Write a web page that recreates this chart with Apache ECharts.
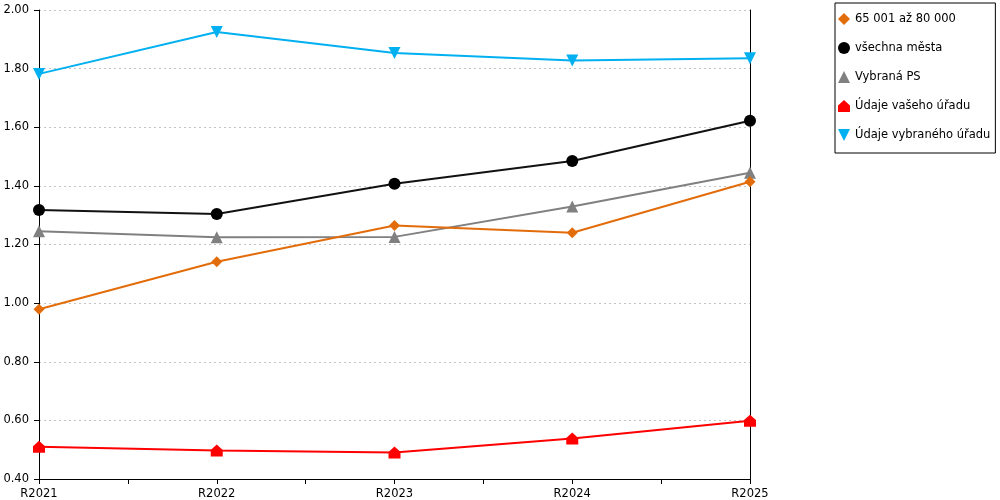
<!DOCTYPE html>
<html>
<head>
<meta charset="utf-8">
<script src="https://cdn.jsdelivr.net/npm/echarts@6/dist/echarts.min.js"></script>
<style>
  html, body { margin: 0; padding: 0; background: #fff; }
  #main { width: 1000px; height: 500px; }
</style>
</head>
<body>
<div id="main"></div>
<script>
var categories = ['R2021', 'R2022', 'R2023', 'R2024', 'R2025'];
var yTicks = [0.4, 0.6, 0.8, 1.0, 1.2, 1.4, 1.6, 1.8, 2.0];

var names = ['65 001 až 80 000', 'všechna města', 'Vybraná PS', 'Údaje vašeho úřadu', 'Údaje vybraného úřadu'];
var orangeValues = [0.979, 1.141, 1.265, 1.240, 1.414];
var blackValues = [1.318, 1.304, 1.407, 1.485, 1.622];
var grayValues = [1.245, 1.225, 1.226, 1.330, 1.445];
var redValues = [0.510, 0.497, 0.490, 0.538, 0.599];
var blueValues = [1.782, 1.925, 1.853, 1.828, 1.835];

var colors = ['#e36c0a', '#000000', '#808080', '#ff0000', '#00b0f0'];
var lineColors = ['#e36c0a', '#111111', '#808080', '#ff0000', '#00b0f0'];
var symbols = [
  'diamond',
  'circle',
  'triangle',
  'path://M5,0 L10,4.5 L10,10 L0,10 L0,4.5 Z', // house
  'path://M0,0 L10,0 L5,10 Z' // triangle down
];
var symbolSizes = [11, 12, 12, 12, 12];
var allValues = [orangeValues, blackValues, grayValues, redValues, blueValues];

var chart = echarts.init(document.getElementById('main'));

var series = allValues.map(function (vals, k) {
  return {
    name: names[k],
    type: 'line',
    data: vals.map(function (v, i) { return [i, v]; }),
    symbol: symbols[k],
    symbolSize: symbolSizes[k],
    showAllSymbol: true,
    itemStyle: { color: colors[k] },
    lineStyle: { color: lineColors[k], width: 2 },
    emphasis: { disabled: true },
    z: 10 - k
  };
});

var option = {
  animation: false,
  textStyle: { fontFamily: 'DejaVu Sans' },
  grid: { left: 39, right: 250, top: 10, bottom: 20, containLabel: false },
  legend: {
    orient: 'vertical',
    left: 835,
    top: 3,
    padding: [10, 5, 12, 3],
    itemGap: 17,
    itemWidth: 12,
    itemHeight: 12,
    borderColor: '#000',
    borderWidth: 1,
    textStyle: { fontSize: 11.5, color: '#000', fontFamily: 'DejaVu Sans' },
    data: names.map(function (n, k) { return { name: n, icon: symbols[k] }; })
  },
  xAxis: {
    type: 'value',
    min: 0,
    max: categories.length - 1,
    interval: 0.5,
    axisLine: { show: true, lineStyle: { color: '#000', width: 1 } },
    axisTick: { show: true, length: 5, lineStyle: { color: '#000' } },
    splitLine: { show: false },
    axisLabel: {
      margin: 9,
      fontSize: 11.5,
      color: '#000',
      formatter: function (v) {
        return Number.isInteger(v) ? categories[v] : '';
      }
    }
  },
  yAxis: [{
    type: 'value',
    min: yTicks[0],
    max: yTicks[yTicks.length - 1],
    interval: 0.2,
    axisLine: { show: true, lineStyle: { color: '#000', width: 1 } },
    axisTick: { show: true, length: 5, lineStyle: { color: '#000' } },
    axisLabel: {
      margin: 10,
      fontSize: 11.5,
      color: '#000',
      formatter: function (v) { return v.toFixed(2); }
    },
    splitLine: { show: true, lineStyle: { color: '#c4c4c4', type: [2, 3], width: 1 } }
  }, {
    type: 'value',
    position: 'right',
    min: yTicks[0],
    max: yTicks[yTicks.length - 1],
    interval: 0.2,
    axisLine: { show: true, lineStyle: { color: '#000', width: 1 } },
    axisTick: { show: false },
    axisLabel: { show: false },
    splitLine: { show: false }
  }],
  series: series
};

chart.setOption(option);
</script>
</body>
</html>
